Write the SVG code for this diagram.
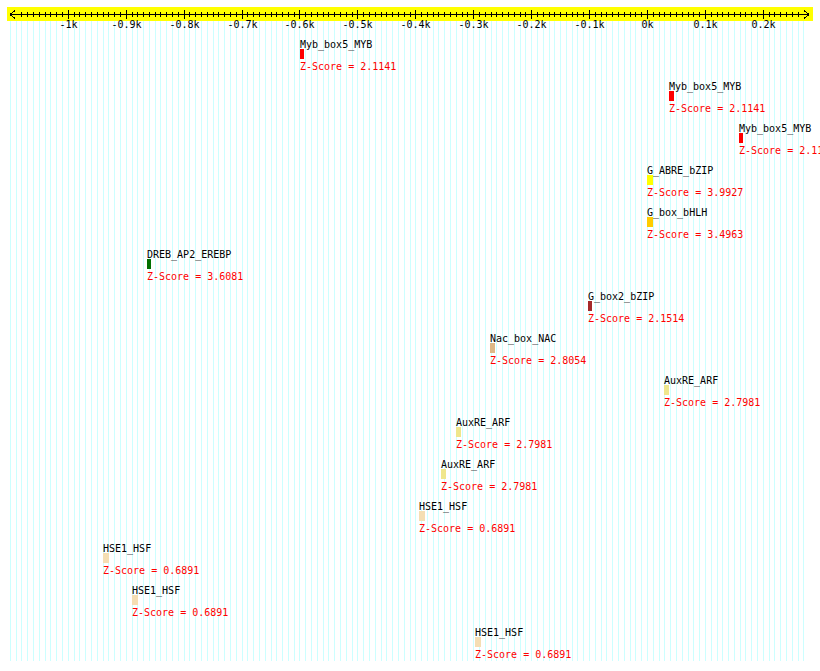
<svg xmlns="http://www.w3.org/2000/svg" width="820" height="671" viewBox="0 0 820 671">
<style>
text{font-family:"DejaVu Sans Mono","Liberation Mono",monospace;font-size:10px}
.ax{text-anchor:middle;fill:#000}
.nm{fill:#000}
.zs{fill:#ff0000}
.grid{stroke:#ccffff;stroke-width:1;fill:none;shape-rendering:crispEdges}
.tk{stroke:#000;stroke-width:1;fill:none;shape-rendering:crispEdges}
</style>
<rect width="820" height="671" fill="#fff"/>
<path class="grid" d="M10.5 7V661M16.5 7V661M21.5 7V661M27.5 7V661M33.5 7V661M39.5 7V661M45.5 7V661M50.5 7V661M56.5 7V661M62.5 7V661M68.5 7V661M74.5 7V661M79.5 7V661M85.5 7V661M91.5 7V661M97.5 7V661M103.5 7V661M108.5 7V661M114.5 7V661M120.5 7V661M126.5 7V661M132.5 7V661M137.5 7V661M143.5 7V661M149.5 7V661M155.5 7V661M160.5 7V661M166.5 7V661M172.5 7V661M178.5 7V661M184.5 7V661M189.5 7V661M195.5 7V661M201.5 7V661M207.5 7V661M213.5 7V661M218.5 7V661M224.5 7V661M230.5 7V661M236.5 7V661M242.5 7V661M247.5 7V661M253.5 7V661M259.5 7V661M265.5 7V661M271.5 7V661M276.5 7V661M282.5 7V661M288.5 7V661M294.5 7V661M299.5 7V661M305.5 7V661M311.5 7V661M317.5 7V661M323.5 7V661M328.5 7V661M334.5 7V661M340.5 7V661M346.5 7V661M352.5 7V661M357.5 7V661M363.5 7V661M369.5 7V661M375.5 7V661M381.5 7V661M386.5 7V661M392.5 7V661M398.5 7V661M404.5 7V661M410.5 7V661M415.5 7V661M421.5 7V661M427.5 7V661M433.5 7V661M438.5 7V661M444.5 7V661M450.5 7V661M456.5 7V661M462.5 7V661M467.5 7V661M473.5 7V661M479.5 7V661M485.5 7V661M491.5 7V661M496.5 7V661M502.5 7V661M508.5 7V661M514.5 7V661M520.5 7V661M525.5 7V661M531.5 7V661M537.5 7V661M543.5 7V661M549.5 7V661M554.5 7V661M560.5 7V661M566.5 7V661M572.5 7V661M577.5 7V661M583.5 7V661M589.5 7V661M595.5 7V661M601.5 7V661M606.5 7V661M612.5 7V661M618.5 7V661M624.5 7V661M630.5 7V661M635.5 7V661M641.5 7V661M647.5 7V661M653.5 7V661M659.5 7V661M664.5 7V661M670.5 7V661M676.5 7V661M682.5 7V661M688.5 7V661M693.5 7V661M699.5 7V661M705.5 7V661M711.5 7V661M717.5 7V661M722.5 7V661M728.5 7V661M734.5 7V661M740.5 7V661M745.5 7V661M751.5 7V661M757.5 7V661M763.5 7V661M769.5 7V661M774.5 7V661M780.5 7V661M786.5 7V661M792.5 7V661M798.5 7V661M803.5 7V661"/>
<g id="axis">
<rect x="7" y="7" width="806" height="14" fill="#ffff00"/>
<path class="tk" d="M10 14.5H809M10 14.5L15 10.5M10 14.5L15 18.5M809 14.5L804 10.5M809 14.5L804 18.5"/>
<path class="tk" d="M68.5 10V19M126.5 10V19M184.5 10V19M242.5 10V19M299.5 10V19M357.5 10V19M415.5 10V19M473.5 10V19M531.5 10V19M589.5 10V19M647.5 10V19M705.5 10V19M763.5 10V19"/>
<path class="tk" d="M21.5 12V17M27.5 12V17M33.5 12V17M39.5 12V17M45.5 12V17M50.5 12V17M56.5 12V17M62.5 12V17M74.5 12V17M79.5 12V17M85.5 12V17M91.5 12V17M97.5 12V17M103.5 12V17M108.5 12V17M114.5 12V17M120.5 12V17M132.5 12V17M137.5 12V17M143.5 12V17M149.5 12V17M155.5 12V17M160.5 12V17M166.5 12V17M172.5 12V17M178.5 12V17M189.5 12V17M195.5 12V17M201.5 12V17M207.5 12V17M213.5 12V17M218.5 12V17M224.5 12V17M230.5 12V17M236.5 12V17M247.5 12V17M253.5 12V17M259.5 12V17M265.5 12V17M271.5 12V17M276.5 12V17M282.5 12V17M288.5 12V17M294.5 12V17M305.5 12V17M311.5 12V17M317.5 12V17M323.5 12V17M328.5 12V17M334.5 12V17M340.5 12V17M346.5 12V17M352.5 12V17M363.5 12V17M369.5 12V17M375.5 12V17M381.5 12V17M386.5 12V17M392.5 12V17M398.5 12V17M404.5 12V17M410.5 12V17M421.5 12V17M427.5 12V17M433.5 12V17M438.5 12V17M444.5 12V17M450.5 12V17M456.5 12V17M462.5 12V17M467.5 12V17M479.5 12V17M485.5 12V17M491.5 12V17M496.5 12V17M502.5 12V17M508.5 12V17M514.5 12V17M520.5 12V17M525.5 12V17M537.5 12V17M543.5 12V17M549.5 12V17M554.5 12V17M560.5 12V17M566.5 12V17M572.5 12V17M577.5 12V17M583.5 12V17M595.5 12V17M601.5 12V17M606.5 12V17M612.5 12V17M618.5 12V17M624.5 12V17M630.5 12V17M635.5 12V17M641.5 12V17M653.5 12V17M659.5 12V17M664.5 12V17M670.5 12V17M676.5 12V17M682.5 12V17M688.5 12V17M693.5 12V17M699.5 12V17M711.5 12V17M717.5 12V17M722.5 12V17M728.5 12V17M734.5 12V17M740.5 12V17M745.5 12V17M751.5 12V17M757.5 12V17M769.5 12V17M774.5 12V17M780.5 12V17M786.5 12V17M792.5 12V17M798.5 12V17"/>
<text class="ax" x="68.5" y="28">-1k</text>
<text class="ax" x="126.5" y="28">-0.9k</text>
<text class="ax" x="184.5" y="28">-0.8k</text>
<text class="ax" x="242.5" y="28">-0.7k</text>
<text class="ax" x="299.5" y="28">-0.6k</text>
<text class="ax" x="357.5" y="28">-0.5k</text>
<text class="ax" x="415.5" y="28">-0.4k</text>
<text class="ax" x="473.5" y="28">-0.3k</text>
<text class="ax" x="531.5" y="28">-0.2k</text>
<text class="ax" x="589.5" y="28">-0.1k</text>
<text class="ax" x="647.5" y="28">0k</text>
<text class="ax" x="705.5" y="28">0.1k</text>
<text class="ax" x="763.5" y="28">0.2k</text>
</g>
<g id="f0"><text class="nm" x="300" y="48">Myb_box5_MYB</text><rect x="300" y="49" width="4" height="10" fill="#ff0000"/><text class="zs" x="300" y="70">Z-Score = 2.1141</text></g>
<g id="f1"><text class="nm" x="669" y="90">Myb_box5_MYB</text><rect x="669" y="91" width="5" height="10" fill="#ff0000"/><text class="zs" x="669" y="112">Z-Score = 2.1141</text></g>
<g id="f2"><text class="nm" x="739" y="132">Myb_box5_MYB</text><rect x="739" y="133" width="4" height="10" fill="#ff0000"/><text class="zs" x="739" y="154">Z-Score = 2.1141</text></g>
<g id="f3"><text class="nm" x="647" y="174">G_ABRE_bZIP</text><rect x="647" y="175" width="6" height="10" fill="#ffff00"/><text class="zs" x="647" y="196">Z-Score = 3.9927</text></g>
<g id="f4"><text class="nm" x="647" y="216">G_box_bHLH</text><rect x="647" y="217" width="6" height="10" fill="#ffcc00"/><text class="zs" x="647" y="238">Z-Score = 3.4963</text></g>
<g id="f5"><text class="nm" x="147" y="258">DREB_AP2_EREBP</text><rect x="147" y="259" width="4" height="10" fill="#007000"/><text class="zs" x="147" y="280">Z-Score = 3.6081</text></g>
<g id="f6"><text class="nm" x="588" y="300">G_box2_bZIP</text><rect x="588" y="301" width="4" height="10" fill="#a52a2a"/><text class="zs" x="588" y="322">Z-Score = 2.1514</text></g>
<g id="f7"><text class="nm" x="490" y="342">Nac_box_NAC</text><rect x="490" y="343" width="5" height="10" fill="#deb887"/><text class="zs" x="490" y="364">Z-Score = 2.8054</text></g>
<g id="f8"><text class="nm" x="664" y="384">AuxRE_ARF</text><rect x="664" y="385" width="5" height="10" fill="#f0e68c"/><text class="zs" x="664" y="406">Z-Score = 2.7981</text></g>
<g id="f9"><text class="nm" x="456" y="426">AuxRE_ARF</text><rect x="456" y="427" width="5" height="10" fill="#f0e68c"/><text class="zs" x="456" y="448">Z-Score = 2.7981</text></g>
<g id="f10"><text class="nm" x="441" y="468">AuxRE_ARF</text><rect x="441" y="469" width="5" height="10" fill="#f0e68c"/><text class="zs" x="441" y="490">Z-Score = 2.7981</text></g>
<g id="f11"><text class="nm" x="419" y="510">HSE1_HSF</text><rect x="419" y="511" width="6" height="10" fill="#f5deb3"/><text class="zs" x="419" y="532">Z-Score = 0.6891</text></g>
<g id="f12"><text class="nm" x="103" y="552">HSE1_HSF</text><rect x="103" y="553" width="6" height="10" fill="#f5deb3"/><text class="zs" x="103" y="574">Z-Score = 0.6891</text></g>
<g id="f13"><text class="nm" x="132" y="594">HSE1_HSF</text><rect x="132" y="595" width="6" height="10" fill="#f5deb3"/><text class="zs" x="132" y="616">Z-Score = 0.6891</text></g>
<g id="f14"><text class="nm" x="475" y="636">HSE1_HSF</text><rect x="475" y="637" width="6" height="10" fill="#f5deb3"/><text class="zs" x="475" y="658">Z-Score = 0.6891</text></g>
<g id="connectors"/>
</svg>
